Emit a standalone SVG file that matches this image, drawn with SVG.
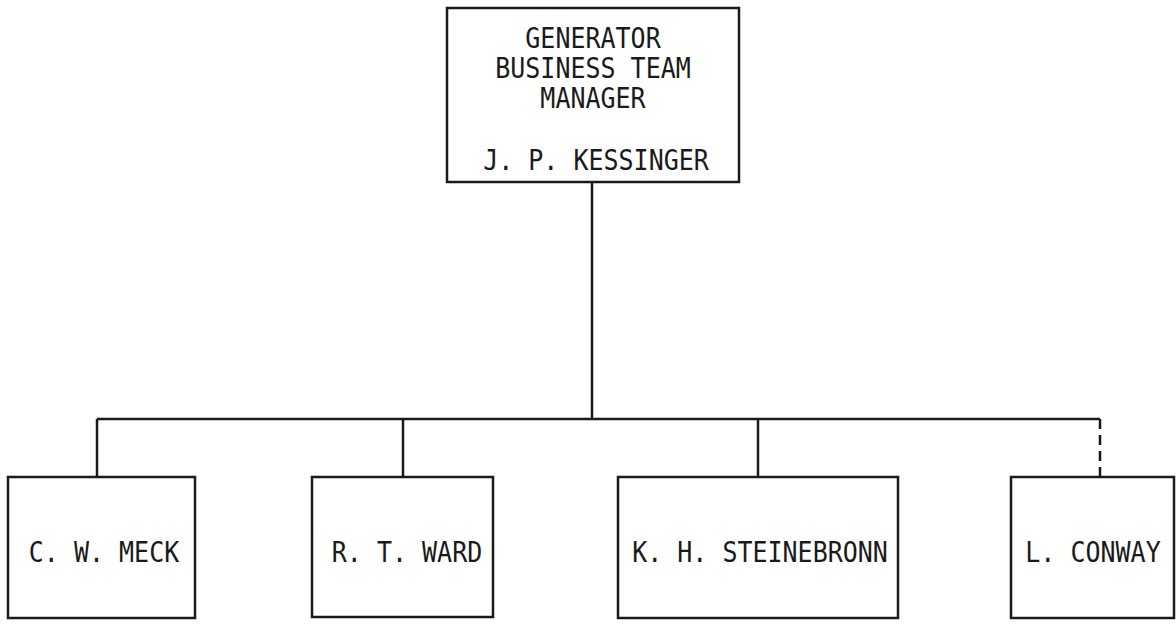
<svg xmlns="http://www.w3.org/2000/svg" width="1176" height="625" viewBox="0 0 1176 625">
<style>
.box{fill:#fff;stroke:#1a1a1a;stroke-width:2.5}
.ln{fill:none;stroke:#1a1a1a;stroke-width:2.5}
.dash{stroke-dasharray:10 6}
text{font-family:"DejaVu Sans Mono","Liberation Mono",monospace;font-size:25px;fill:#1a1a1a;text-anchor:middle}
</style>
<rect width="1176" height="625" fill="#fff"/>
<g id="connectors">
<line class="ln" x1="592" y1="182" x2="592" y2="419"/>
<line class="ln" x1="97" y1="419" x2="1100" y2="419"/>
<line class="ln" x1="97" y1="419" x2="97" y2="477"/>
<line class="ln" x1="403" y1="419" x2="403" y2="477"/>
<line class="ln" x1="758" y1="419" x2="758" y2="477"/>
<line class="ln dash" x1="1100" y1="419" x2="1100" y2="477"/>
</g>
<g id="manager">
<rect class="box" x="447" y="8" width="292" height="174"/>
<text transform="translate(593,48) scale(1,1.1)">GENERATOR</text>
<text transform="translate(593,78) scale(1,1.1)">BUSINESS TEAM</text>
<text transform="translate(593,108) scale(1,1.1)">MANAGER</text>
<text transform="translate(596,170) scale(1,1.1)">J. P. KESSINGER</text>
</g>
<g id="meck">
<rect class="box" x="8" y="477" width="187" height="141"/>
<text transform="translate(104,562) scale(1,1.1)">C. W. MECK</text>
</g>
<g id="ward">
<rect class="box" x="312" y="477" width="181" height="140"/>
<text transform="translate(407,562) scale(1,1.1)">R. T. WARD</text>
</g>
<g id="steinebronn">
<rect class="box" x="618" y="477" width="280" height="141"/>
<text transform="translate(760,562) scale(1,1.1)">K. H. STEINEBRONN</text>
</g>
<g id="conway">
<rect class="box" x="1011" y="477" width="163" height="141"/>
<text transform="translate(1093,562) scale(1,1.1)">L. CONWAY</text>
</g>
</svg>
